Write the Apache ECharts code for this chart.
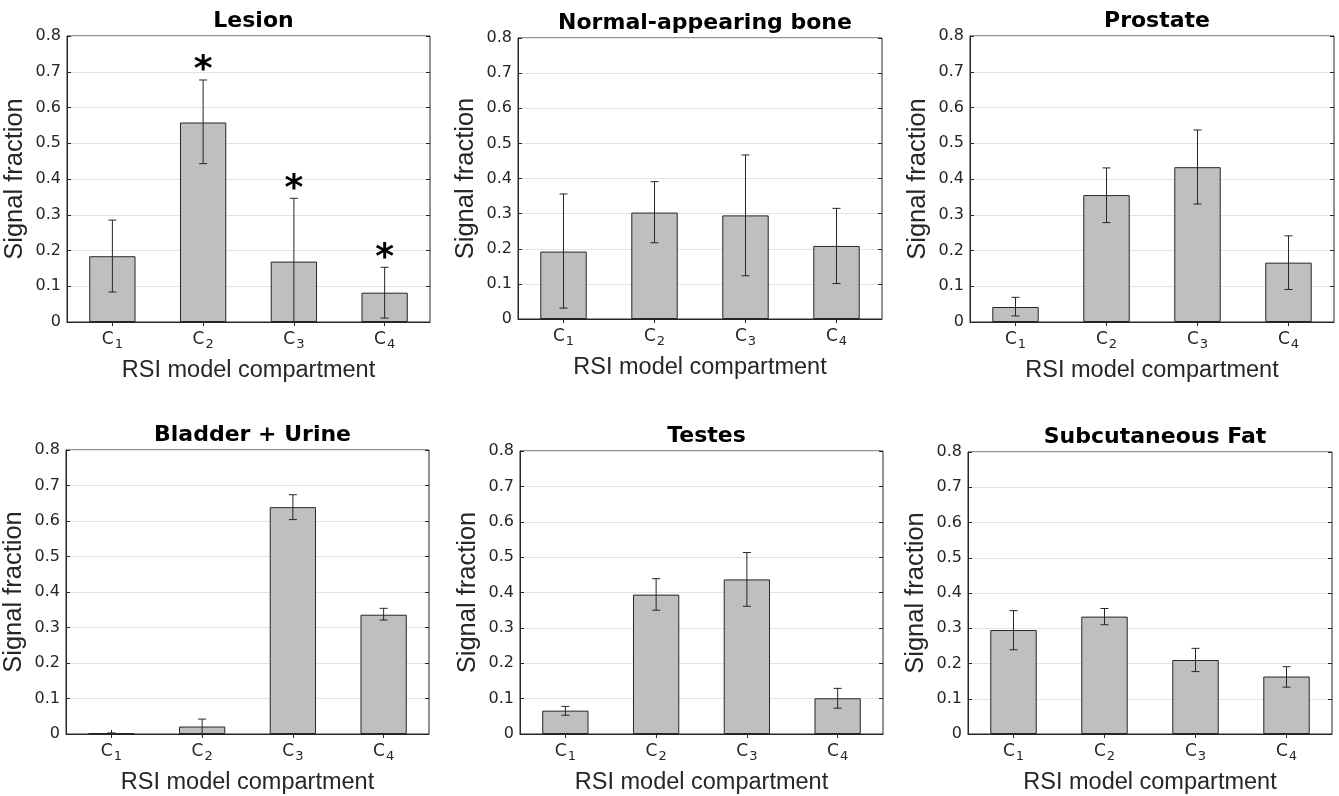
<!DOCTYPE html>
<html>
<head>
<meta charset="utf-8">
<script src="https://cdn.jsdelivr.net/npm/echarts@6/dist/echarts.min.js"></script>
<style>
html,body{margin:0;padding:0;background:#fff;}
#chart{width:1339px;height:796px;}
</style>
</head>
<body>
<div id="chart"></div>
<script>
// ---- data ----
const categories = ['C1', 'C2', 'C3', 'C4'];
const panelTitles = ['Lesion', 'Normal-appearing bone', 'Prostate', 'Bladder + Urine', 'Testes', 'Subcutaneous Fat'];
const yTicks = [0, 0.1, 0.2, 0.3, 0.4, 0.5, 0.6, 0.7, 0.8];

const lesionMean = [0.184, 0.558, 0.169, 0.082];
const lesionLow  = [0.084, 0.443, 0.000, 0.011];
const lesionHigh = [0.285, 0.677, 0.346, 0.153];
const lesionStar = [0, 1, 1, 1];

const boneMean = [0.192, 0.303, 0.295, 0.208];
const boneLow  = [0.031, 0.217, 0.123, 0.101];
const boneHigh = [0.356, 0.391, 0.467, 0.315];

const prostateMean = [0.042, 0.355, 0.433, 0.166];
const prostateLow  = [0.017, 0.278, 0.330, 0.091];
const prostateHigh = [0.069, 0.431, 0.537, 0.241];

const bladderMean = [0.002, 0.021, 0.639, 0.336];
const bladderLow  = [0.001, 0.000, 0.604, 0.321];
const bladderHigh = [0.003, 0.042, 0.674, 0.354];

const testesMean = [0.066, 0.394, 0.437, 0.101];
const testesLow  = [0.053, 0.350, 0.361, 0.073];
const testesHigh = [0.078, 0.439, 0.513, 0.129];

const fatMean = [0.295, 0.333, 0.210, 0.163];
const fatLow  = [0.239, 0.310, 0.177, 0.133];
const fatHigh = [0.350, 0.356, 0.243, 0.191];

const panels = [
  { mean: lesionMean, low: lesionLow, high: lesionHigh, star: lesionStar },
  { mean: boneMean, low: boneLow, high: boneHigh },
  { mean: prostateMean, low: prostateLow, high: prostateHigh },
  { mean: bladderMean, low: bladderLow, high: bladderHigh },
  { mean: testesMean, low: testesLow, high: testesHigh },
  { mean: fatMean, low: fatLow, high: fatHigh }
];

// ---- layout ----
const boxes = [
  { left: 67,  top: 36,  width: 363, height: 286 },
  { left: 518, top: 38,  width: 364, height: 281 },
  { left: 970, top: 36,  width: 364, height: 286 },
  { left: 66,  top: 450, width: 363, height: 286 },
  { left: 520, top: 451, width: 363, height: 285 },
  { left: 968, top: 452, width: 364, height: 285 }
];

const AX = '#262626';
const grid = [], xAxis = [], yAxis = [], series = [], title = [];

boxes.forEach((b, i) => {
  grid.push({ left: b.left, top: b.top, width: b.width, height: b.height,
    show: true, borderColor: AX, borderWidth: 1, backgroundColor: 'transparent' });
  title.push({ text: panelTitles[i], left: b.left + b.width / 2, top: b.top - 31, textAlign: 'center',
    textStyle: { fontFamily: 'DejaVu Sans', fontWeight: 'bold', fontSize: 22, color: '#000' } });
  xAxis.push({
    type: 'category', gridIndex: i, data: categories, position: 'bottom',
    name: 'RSI model compartment', nameLocation: 'middle', nameGap: 37,
    nameTextStyle: { fontFamily: 'Liberation Sans', fontSize: 23.5, color: AX },
    axisLine: { show: true, lineStyle: { color: AX, width: 1 } },
    axisTick: { show: true, inside: true, length: 4, alignWithLabel: true, lineStyle: { color: AX } },
    axisLabel: {
      margin: 9,
      formatter: v => '{c|C}{s|' + v.slice(1) + '}',
      rich: {
        c: { fontFamily: 'DejaVu Sans', fontSize: 17, color: AX, verticalAlign: 'top', lineHeight: 18 },
        s: { fontFamily: 'DejaVu Sans', fontSize: 13, color: AX, verticalAlign: 'bottom', padding: [7, 0, 0, 1] }
      }
    },
    splitLine: { show: false }
  });
  xAxis.push({
    type: 'category', gridIndex: i, data: categories, position: 'top',
    axisLine: { show: false },
    axisTick: { show: true, inside: true, length: 4, alignWithLabel: true, lineStyle: { color: AX } },
    axisLabel: { show: false }, splitLine: { show: false }
  });
  yAxis.push({
    type: 'value', gridIndex: i, min: 0, max: 0.8, interval: 0.1, position: 'left',
    name: 'Signal fraction', nameLocation: 'middle', nameGap: 39,
    nameTextStyle: { fontFamily: 'Liberation Sans', fontSize: 25.5, color: AX },
    axisLine: { show: true, lineStyle: { color: AX, width: 1 } },
    axisTick: { show: true, inside: true, length: 4, lineStyle: { color: AX } },
    axisLabel: { fontFamily: 'DejaVu Sans', fontSize: 16, color: AX, margin: 6,
      formatter: v => String(parseFloat(v.toFixed(1))) },
    splitLine: { show: true, lineStyle: { color: '#e3e3e3', width: 1 } }
  });
  yAxis.push({
    type: 'value', gridIndex: i, min: 0, max: 0.8, interval: 0.1, position: 'right',
    axisLine: { show: false },
    axisTick: { show: true, inside: true, length: 4, lineStyle: { color: AX } },
    axisLabel: { show: false }, splitLine: { show: false }
  });

  const p = panels[i];
  series.push({
    type: 'bar', xAxisIndex: 2 * i, yAxisIndex: 2 * i, data: p.mean, barWidth: '51%', z: 2,
    itemStyle: { color: '#bfbfbf', borderColor: AX, borderWidth: 1 },
    silent: true, animation: false
  });
  series.push({
    type: 'custom', xAxisIndex: 2 * i, yAxisIndex: 2 * i, animation: false, silent: true, z: 10,
    data: p.mean.map((m, k) => [k, p.low[k], p.high[k]]),
    encode: { x: 0, y: [1, 2] },
    renderItem: (params, api) => {
      const k = api.value(0);
      const lo = api.coord([k, api.value(1)]);
      const hi = api.coord([k, api.value(2)]);
      const hw = 4;
      const st = { stroke: AX, lineWidth: 1 };
      return { type: 'group', children: [
        { type: 'line', shape: { x1: lo[0], y1: lo[1], x2: hi[0], y2: hi[1] }, style: st },
        { type: 'line', shape: { x1: lo[0] - hw, y1: lo[1], x2: lo[0] + hw, y2: lo[1] }, style: st },
        { type: 'line', shape: { x1: hi[0] - hw, y1: hi[1], x2: hi[0] + hw, y2: hi[1] }, style: st }
      ] };
    }
  });
  if (p.star) {
    series.push({
      type: 'custom', xAxisIndex: 2 * i, yAxisIndex: 2 * i, animation: false, silent: true, z: 10,
      data: p.star.map((s, k) => [k, p.high[k], s]).filter(d => d[2]),
      encode: { x: 0, y: 1 },
      renderItem: (params, api) => {
        const pt = api.coord([api.value(0), api.value(1)]);
        return { type: 'text', x: pt[0], y: pt[1] - 9,
          style: { text: '*', fill: '#000', font: 'bold 36px "DejaVu Sans"', align: 'center', verticalAlign: 'middle' } };
      }
    });
  }
});

const chart = echarts.init(document.getElementById('chart'), null, { renderer: 'canvas' });
chart.setOption({ animation: false, backgroundColor: '#fff', title, grid, xAxis, yAxis, series });
</script>
</body>
</html>
